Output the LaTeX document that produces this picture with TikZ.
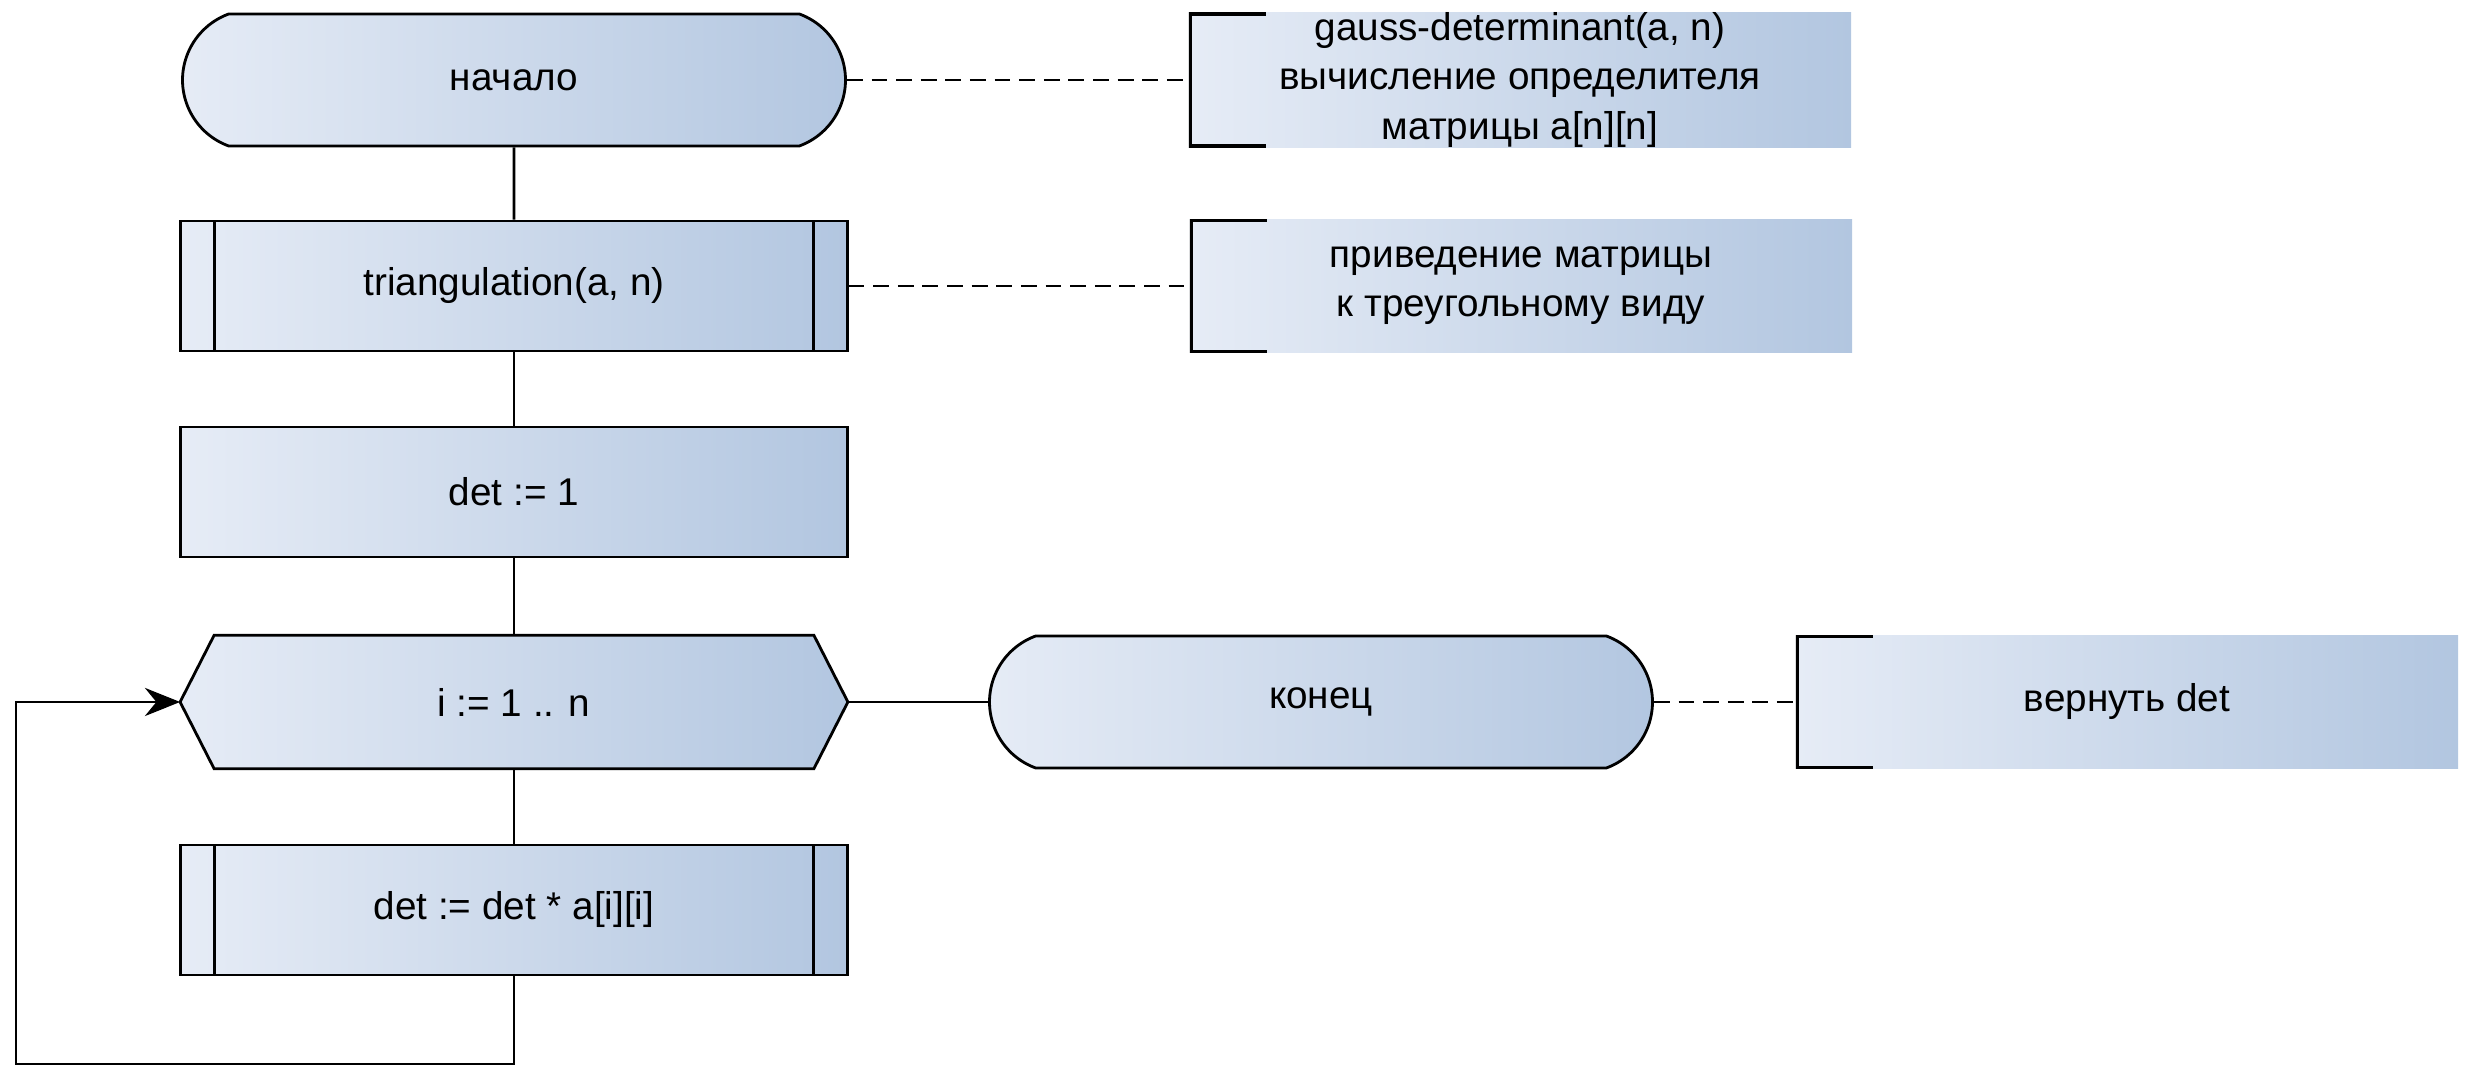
\documentclass[tikz,border=0pt]{standalone}
\usepackage{fontspec}
\setmainfont{Liberation Sans}
\usetikzlibrary{shapes.misc}
\usetikzlibrary{arrows.meta}
\usetikzlibrary{backgrounds}
\definecolor{gradleft}{HTML}{E6ECF6}
\definecolor{gradright}{HTML}{B2C6E0}

\tikzset{
  grad/.style={left color=gradleft,right color=gradright},
  txt/.style={font=\fontsize{11}{14}\selectfont},
  termbox/.style={rounded rectangle,rounded rectangle arc length=140,draw,line width=0.8pt,grad,txt,
    minimum width=6.86cm,minimum height=1.32cm},
  actbox/.style={rectangle,draw,line width=0.8pt,grad,txt,minimum width=6.66cm,minimum height=1.3cm},
  procbox/.style={actbox,path picture={
    \draw[line width=0.8pt] ([xshift=0.34cm]path picture bounding box.north west) -- ([xshift=0.34cm]path picture bounding box.south west);
    \draw[line width=0.8pt] ([xshift=-0.34cm]path picture bounding box.north east) -- ([xshift=-0.34cm]path picture bounding box.south east);}},
  loopbox/.style={rectangle,txt,minimum width=6.66cm,minimum height=1.32cm},
  notebox/.style={rectangle,grad,txt,align=center,inner sep=0pt,minimum width=6.62cm,minimum height=1.33cm,path picture={
    \draw[line width=1.6pt] ([xshift=0.77cm]path picture bounding box.north west) -- (path picture bounding box.north west)
      -- (path picture bounding box.south west) -- ([xshift=0.77cm]path picture bounding box.south west);}},
  flow/.style={line width=0.8pt},
  note/.style={line width=0.8pt,dash pattern=on 4.5pt off 2.5pt}
}

\begin{document}
\begin{tikzpicture}[x=0.01cm,y=-0.01cm]
      \useasboundingbox (0,0) rectangle (2469,1068);
      \node[termbox] (start) at (514,80) {начало};
      \node[procbox] (tri) at (514,286) {triangulation(a, n)};
      \node[actbox] (det) at (514,492) {det := 1};
      \node[loopbox] (loop) at (514,702) {i := 1 .. n};
      \node[procbox] (body) at (514,910) {det := det * a[i][i]};
      \node[termbox] (end) at (1321,702) {конец};
      \node[notebox] (c1) at (1520,80) {gauss-determinant(a, n)\\вычисление определителя\\матрицы a[n][n]};
      \node[notebox] (c2) at (1521,286) {приведение матрицы\\к треугольному виду};
      \node[notebox] (c3) at (2127,702) {вернуть det};
      \coordinate (back) at (16,1064);
      \begin{pgfonlayer}{background}
        \shade[grad,draw,line width=0.8pt] (loop.west) -- ([xshift=0.34cm]loop.north west)
          -- ([xshift=-0.34cm]loop.north east) -- (loop.east)
          -- ([xshift=-0.34cm]loop.south east) -- ([xshift=0.34cm]loop.south west) -- cycle;
      \end{pgfonlayer}
      \draw[flow] (start) -- (tri);
      \draw[flow] (tri) -- (det);
      \draw[flow] (det) -- (loop);
      \draw[flow] (loop) -- (body);
      \draw[flow] (loop.east) -- (end.west);
      \draw[flow,-{Stealth[length=10pt,width=8pt]}] (body.south) |- (back) |- (loop.west);
      \draw[note] (start.east) -- (c1.west);
      \draw[note] (tri.east) -- (c2.west);
      \draw[note] (end.east) -- (c3.west);
    \end{tikzpicture}
\end{document}
